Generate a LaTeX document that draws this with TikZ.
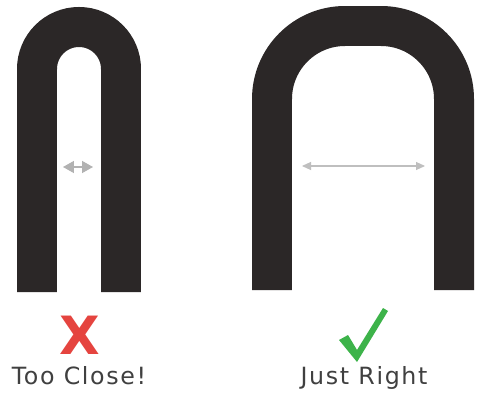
\documentclass[tikz,border=0pt]{standalone}
\usepackage{fontspec}
\setmainfont{DejaVu Sans}
\newfontfamily\capfont[LetterSpace=7]{DejaVu Sans}
\usepackage{xcolor}
\usetikzlibrary{arrows.meta,positioning}
\definecolor{archgray}{HTML}{2B2727}
\definecolor{crossred}{HTML}{E5443F}
\definecolor{tickgreen}{HTML}{3DB34A}
\tikzset{
  arch/.style={draw=archgray, line width=0.8cm, line cap=butt},
  gap/.style={{Triangle[length=2.2mm, width=2.4mm]}-{Triangle[length=2.2mm, width=2.4mm]},
    draw=black!30, fill=black!30, thick},
  widegap/.style={{Triangle[length=1.8mm, width=1.6mm]}-{Triangle[length=1.8mm, width=1.6mm]},
    draw=black!25, fill=black!25, semithick},
  caption/.style={font=\capfont\fontsize{13.5}{15}\selectfont, text=black!75, inner sep=0pt}
}

\begin{document}
\begin{tikzpicture}[x=0.02cm, y=0.02cm]
  \useasboundingbox[fill=white] (0,0) rectangle (480,396);
  % narrow arch
  \draw[arch] (37,104) -- (37,327) arc[start angle=180, end angle=0, radius=42] -- (121,104);
  \coordinate (nl) at (63,229);
  \coordinate (nr) at (93,229);
  \draw[gap] (nl) -- (nr);
  % wide arch
  \draw[arch, rounded corners=1.46cm] (272,106) -- (272,370) -- (454,370) -- (454,106);
  \coordinate (wl) at (302,230);
  \coordinate (wr) at (425,230);
  \draw[widegap] (wl) -- (wr);
  % marks and captions
  \node[text=crossred, inner sep=0pt, font=\fontsize{30}{30}\bfseries\selectfont] (cross) at (80,61) {X};
  \fill[tickgreen] (339,56) -- (348,61) -- (357,46) -- (383,88) -- (388,85) -- (357,34) -- cycle;
  \node[caption, anchor=base] (close) at (79,12) {Too Close!};
  \node[caption, anchor=base] (right) at (364,12) {Just Right};
\end{tikzpicture}
\end{document}
